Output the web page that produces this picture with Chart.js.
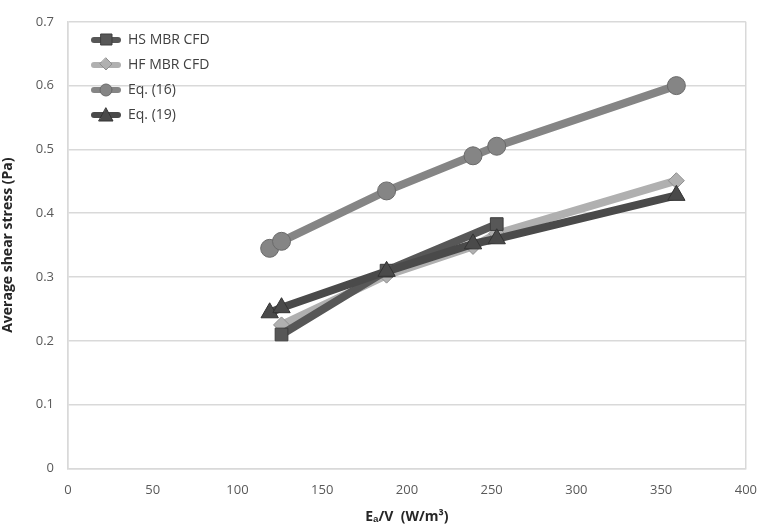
<!DOCTYPE html>
<html>
<head>
<meta charset="utf-8">
<script src="https://cdn.jsdelivr.net/npm/chart.js@4.4.1/dist/chart.umd.min.js"></script>
<style>
  html, body { margin: 0; padding: 0; background: #fff; }
  canvas { display: block; }
</style>
</head>
<body>
<canvas id="chart" width="771" height="525"></canvas>
<script>
// values
const seriesNames = ["HS MBR CFD", "HF MBR CFD", "Eq. (16)", "Eq. (19)"];
const hsX = [126, 188, 253];
const hsY = [0.21, 0.31, 0.383];
const hfX = [126, 188, 239, 253, 359];
const hfY = [0.225, 0.303, 0.348, 0.368, 0.451];
const eq16X = [119, 126, 188, 239, 253, 359];
const eq16Y = [0.345, 0.356, 0.435, 0.49, 0.505, 0.6];
const eq19X = [119, 126, 188, 239, 253, 359];
const eq19Y = [0.244, 0.252, 0.309, 0.352, 0.36, 0.428];
const xTicks = [0, 50, 100, 150, 200, 250, 300, 350, 400];
const yTicks = [0, 0.1, 0.2, 0.3, 0.4, 0.5, 0.6, 0.7];

const colors = ["#575757", "#b0b0b0", "#858585", "#4a4a4a"];
const borders = ["#3e3e3e", "#8e8e8e", "#6a6a6a", "#333333"];
const styles = ["rect", "rectRot", "circle", "triangle"];
const radii = [9, 8, 9, 10];

function pts(xs, ys) {
  return xs.map((x, i) => ({ x: x, y: ys[i] }));
}

// little line + marker icon for the legend
function legendIcon(i) {
  const c = document.createElement("canvas");
  c.width = 30; c.height = 16;
  const g = c.getContext("2d");
  g.strokeStyle = colors[i];
  g.lineWidth = 6;
  g.lineCap = "round";
  g.beginPath(); g.moveTo(3, 8); g.lineTo(27, 8); g.stroke();
  g.fillStyle = colors[i];
  g.strokeStyle = borders[i];
  g.lineWidth = 1;
  g.beginPath();
  if (styles[i] === "rect") g.rect(10, 2, 11, 11);
  else if (styles[i] === "rectRot") { g.moveTo(15, 1); g.lineTo(21, 7); g.lineTo(15, 13); g.lineTo(9, 7); g.closePath(); }
  else if (styles[i] === "circle") g.arc(15, 8, 6, 0, Math.PI * 2);
  else { g.moveTo(15, 1); g.lineTo(22, 14); g.lineTo(8, 14); g.closePath(); }
  g.fill(); g.stroke();
  return c;
}
const icons = [0, 1, 2, 3].map(legendIcon);

const allData = [pts(hsX, hsY), pts(hfX, hfY), pts(eq16X, eq16Y), pts(eq19X, eq19Y)];

const datasets = allData.map((d, i) => ({
  label: seriesNames[i],
  data: d,
  showLine: true,
  borderColor: colors[i],
  backgroundColor: colors[i],
  borderWidth: 8,
  pointStyle: styles[i],
  pointRadius: radii[i],
  pointBackgroundColor: colors[i],
  pointBorderColor: borders[i],
  pointBorderWidth: 1,
  order: [2, 3, 1, 0][i],
}));

// nudge the legend inside the plot like the original
const legendShift = {
  id: "legendShift",
  afterLayout(chart) {
    const lg = chart.legend;
    if (!lg) return;
    lg.left += 12; lg.right += 12;
    lg.top += 22; lg.bottom += 22;
  },
};

new Chart(document.getElementById("chart").getContext("2d"), {
  type: "scatter",
  data: { datasets: datasets },
  plugins: [legendShift],
  options: {
    responsive: false,
    animation: false,
    layout: { padding: { left: 0, top: 15, right: 13, bottom: 0 } },
    plugins: {
      tooltip: { enabled: false },
      legend: {
        position: "chartArea",
        align: "start",
        labels: {
          usePointStyle: true,
          pointStyleWidth: 30,
          boxHeight: 14,
          padding: 11,
          color: "#404040",
          font: { family: "'Open Sans', sans-serif", size: 14 },
          generateLabels: function (chart) {
            const items = Chart.defaults.plugins.legend.labels.generateLabels(chart);
            items.sort((a, b) => a.datasetIndex - b.datasetIndex);
            items.forEach(it => { it.pointStyle = icons[it.datasetIndex]; });
            return items;
          },
        },
      },
    },
    scales: {
      x: {
        type: "linear",
        min: 0,
        max: 400,
        afterBuildTicks: s => { s.ticks = xTicks.map(v => ({ value: v })); },
        afterFit: s => { s.height = 56.5; },
        grid: {
          drawTicks: false,
          color: ctx => (ctx.tick && (ctx.tick.value === 0 || ctx.tick.value === 400)) ? "#d9d9d9" : "rgba(0,0,0,0)",
          lineWidth: 1.5,
        },
        border: { color: "#d9d9d9", width: 1.5 },
        ticks: {
          padding: 14,
          color: "#595959",
          font: { family: "'Open Sans', sans-serif", size: 13 },
        },
        title: {
          display: true,
          text: "E\u2090/V  (W/m\u00b3)",
          color: "#262626",
          font: { family: "'Open Sans', sans-serif", size: 14, weight: "bold" },
          padding: { top: 0, bottom: 0 },
        },
      },
      y: {
        type: "linear",
        min: 0,
        max: 0.7,
        afterBuildTicks: s => { s.ticks = yTicks.map(v => ({ value: v })); },
        afterFit: s => { s.width = 68; },
        grid: { drawTicks: false, color: "#d9d9d9", lineWidth: 1.5 },
        border: { color: "#d9d9d9", width: 1.5 },
        ticks: {
          padding: 14,
          color: "#595959",
          font: { family: "'Open Sans', sans-serif", size: 13 },
          callback: v => String(Math.round(v * 10) / 10),
        },
        title: {
          display: true,
          text: "Average shear stress (Pa)",
          color: "#262626",
          font: { family: "'Open Sans', sans-serif", size: 14, weight: "bold" },
          padding: { top: 0, bottom: 4 },
        },
      },
    },
  },
});
</script>
</body>
</html>
